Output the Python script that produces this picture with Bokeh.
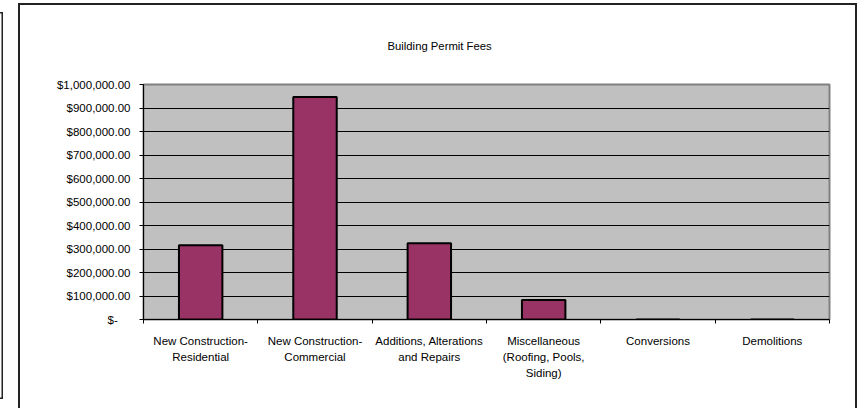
from bokeh.plotting import figure
from bokeh.models import Range1d, LinearAxis, FixedTicker, NumeralTickFormatter
from bokeh.embed import file_html
from bokeh.resources import INLINE

# ---- data ----
categories = ["New Construction-\nResidential", "New Construction-\nCommercial",
              "Additions, Alterations\nand Repairs", "Miscellaneous\n(Roofing, Pools,\nSiding)",
              "Conversions", "Demolitions"]
fees = [316000, 947000, 325000, 83000, 0, 0]
y_ticks = [0, 100000, 200000, 300000, 400000, 500000, 600000, 700000, 800000, 900000, 1000000]
title_text = "Building Permit Fees"

FONT = "Liberation Sans"
W, H = 839, 405
n = len(categories)
centers = [i + 0.5 for i in range(n)]
Y_MAX = 1000000

# frame geometry (pixels, canvas coordinates)
FL, FR, FT, FB = 123, 809, 79, 314

p = figure(width=W, height=H, x_range=Range1d(0, n), y_range=Range1d(0, Y_MAX),
           output_backend="svg", toolbar_location=None, x_axis_location=None,
           y_axis_location="left", min_border_left=FL, min_border_right=W - FR,
           min_border_top=FT, min_border_bottom=H - FB)
p.styles = {
    "position": "absolute", "left": "18px", "top": "3px",
    "border-top": "2px solid #222222", "border-left": "2px solid #222222",
    "border-right": "2px solid #222222", "border-bottom": "0px",
    "box-shadow": "-845px 0px 0px -10.5px #ffffff, -845px 0px 0px -9px #222222",
}
p.background_fill_color = "#C0C0C0"
p.border_fill_color = "white"
p.outline_line_color = "#808080"
p.outline_line_width = 2

# title
p.title.text = title_text
p.title.align = "left"
p.title.offset = 244
p.title.vertical_align = "top"
p.title.standoff = 62
p.title.text_font = FONT
p.title.text_font_size = "11.3px"
p.title.text_font_style = "normal"
p.title.text_color = "black"

# y axis
ya = p.yaxis[0]
ya.ticker = FixedTicker(ticks=y_ticks)
ya.formatter = NumeralTickFormatter(format="$0,0.00")
ya.major_label_overrides = {0: "$-\u00a0\u00a0\u00a0\u00a0"}
ya.axis_line_color = "black"
ya.major_tick_line_color = "black"
ya.major_tick_out = 4
ya.major_tick_in = 0
ya.minor_tick_line_color = None
ya.major_label_standoff = 9
ya.major_label_text_font = FONT
ya.major_label_text_font_size = "11.5px"
ya.major_label_text_color = "black"

p.ygrid.grid_line_color = "black"
p.ygrid.grid_line_width = 1
for g in p.xgrid:
    g.grid_line_color = None

# category axis: labels at centres, boundary ticks as minor ticks
ca = LinearAxis(ticker=FixedTicker(ticks=centers, minor_ticks=list(range(n + 1))))
ca.major_label_overrides = {c: lab for c, lab in zip(centers, categories)}
ca.axis_line_color = "black"
ca.major_tick_line_color = None
ca.major_tick_out = 0
ca.major_tick_in = 0
ca.minor_tick_line_color = "black"
ca.minor_tick_out = 4
ca.minor_tick_in = 0
ca.major_label_standoff = 11
ca.major_label_text_font = FONT
ca.major_label_text_font_size = "11.5px"
ca.major_label_text_color = "black"
ca.major_label_text_line_height = 1.35
p.add_layout(ca, "below")

p.vbar(x=centers, top=fees, width=0.38, fill_color="#993366",
       line_color="black", line_width=2)

open("out.html", "w").write(file_html(p, INLINE))
